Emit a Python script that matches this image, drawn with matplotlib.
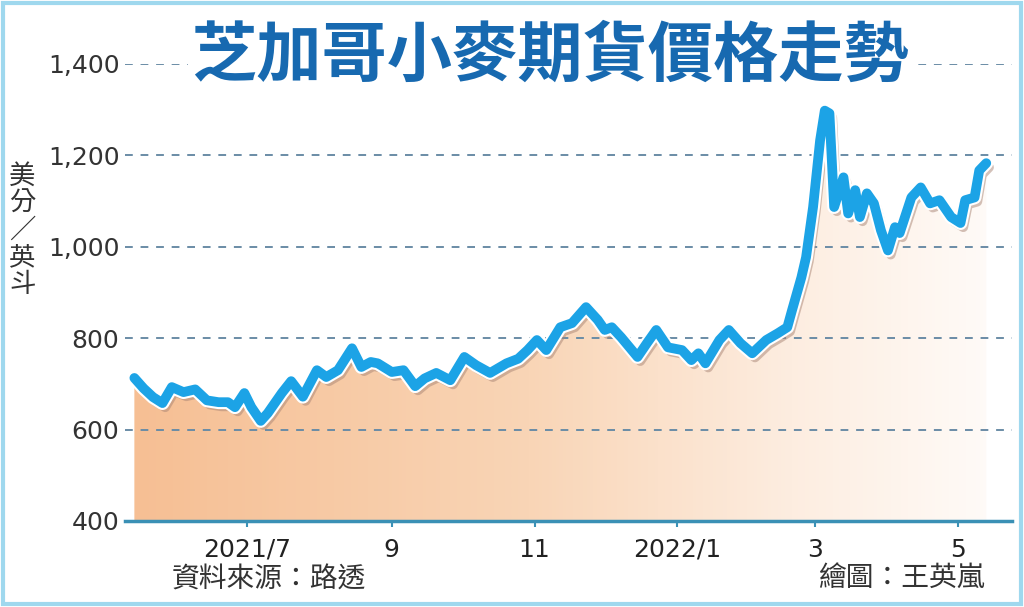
import matplotlib
matplotlib.use("Agg")
import matplotlib.pyplot as plt
import matplotlib.dates as mdates
import matplotlib.patheffects as pe
from matplotlib.colors import LinearSegmentedColormap
from matplotlib.patches import PathPatch, Rectangle
from matplotlib.path import Path
import numpy as np
import pandas as pd

plt.rcParams['font.family'] = ['Noto Sans CJK TC', 'DejaVu Sans']

# Chicago wheat futures, US cents per bushel
dates = [
    "2021-05-14", "2021-05-18", "2021-05-22", "2021-05-26", "2021-05-30", "2021-06-04",
    "2021-06-09", "2021-06-14", "2021-06-19", "2021-06-23", "2021-06-26", "2021-06-30",
    "2021-07-03", "2021-07-07", "2021-07-10", "2021-07-16", "2021-07-20", "2021-07-25",
    "2021-07-31", "2021-08-04", "2021-08-09", "2021-08-15", "2021-08-19", "2021-08-23",
    "2021-08-26", "2021-09-01", "2021-09-06", "2021-09-11", "2021-09-15", "2021-09-20",
    "2021-09-26", "2021-10-02", "2021-10-07", "2021-10-13", "2021-10-20", "2021-10-25",
    "2021-10-29", "2021-11-02", "2021-11-06", "2021-11-12", "2021-11-17", "2021-11-23",
    "2021-11-28", "2021-12-01", "2021-12-04", "2021-12-08", "2021-12-15", "2021-12-19",
    "2021-12-23", "2021-12-28", "2022-01-03", "2022-01-07", "2022-01-10", "2022-01-13",
    "2022-01-19", "2022-01-23", "2022-01-28", "2022-02-02", "2022-02-08", "2022-02-13",
    "2022-02-17", "2022-02-19", "2022-02-23", "2022-02-25", "2022-02-28", "2022-03-03",
    "2022-03-05", "2022-03-07", "2022-03-08", "2022-03-09", "2022-03-13", "2022-03-15",
    "2022-03-18", "2022-03-20", "2022-03-23", "2022-03-26", "2022-03-29", "2022-04-01",
    "2022-04-04", "2022-04-06", "2022-04-11", "2022-04-15", "2022-04-19", "2022-04-23",
    "2022-04-28", "2022-05-02", "2022-05-04", "2022-05-08", "2022-05-10", "2022-05-13",
]
prices = [
    713, 690, 671, 658, 693, 682,
    688, 664, 660, 660, 649, 680,
    649, 619, 636, 680, 706, 672,
    730, 715, 730, 778, 737, 748,
    745, 726, 730, 695, 712, 724,
    708, 759, 741, 724, 745, 755,
    774, 796, 774, 824, 833, 868,
    840, 818, 824, 802, 759, 789,
    818, 780, 774, 752, 767, 745,
    796, 818, 789, 767, 796, 811,
    824, 861, 933, 977, 1087, 1233,
    1298, 1292, 1190, 1087, 1152, 1073,
    1124, 1065, 1117, 1095, 1036, 992,
    1043, 1030, 1108, 1130, 1095, 1102,
    1065, 1052, 1102, 1108, 1167, 1183,
]

tick_dates = ["2021-07-01", "2021-09-01", "2021-11-01", "2022-01-01", "2022-03-01", "2022-05-01"]
tick_labels = ["2021/7", "9", "11", "2022/1", "3", "5"]
y_ticks = [400, 600, 800, 1000, 1200, 1400]

x = mdates.date2num(pd.to_datetime(dates))
y = np.array(prices)

fig = plt.figure(figsize=(10.24, 6.07), dpi=100)
ax = fig.add_axes([125 / 1024, 86 / 607, 887 / 1024, 457 / 607])

xmin = mdates.date2num(pd.Timestamp("2021-05-10"))
xmax = mdates.date2num(pd.Timestamp("2022-05-24"))
ax.set_xlim(xmin, xmax)
ax.set_ylim(400, 1400)

# gradient fill under the line
cmap = LinearSegmentedColormap.from_list(
    "peach", [(0, "#f6bf94"), (0.45, "#f9d5b6"), (0.75, "#fdede0"), (1, "#fffcfa")])
grad = np.linspace(0, 1, 256).reshape(1, -1)
im = ax.imshow(grad, cmap=cmap, aspect="auto", extent=[x[0], xmax, 400, 1400],
               zorder=1, interpolation="bicubic")
verts = np.vstack([np.column_stack([x, y]), [[x[-1], 400], [x[0], 400]]])
poly = PathPatch(Path(verts), facecolor="none", edgecolor="none", transform=ax.transData)
ax.add_patch(poly)
im.set_clip_path(poly)

# dashed gridlines
for v in y_ticks[1:]:
    ax.axhline(v, color="#6a8ca6", lw=1.4, ls=(0, (4, 4)), zorder=2)

# price line with white outline and soft shadow
ax.plot(x, y, color="#1ca3e6", lw=7, solid_joinstyle="round", solid_capstyle="round",
        zorder=4,
        path_effects=[pe.SimpleLineShadow(offset=(2, -3), shadow_color="#a88474", alpha=0.5),
                      pe.Stroke(linewidth=10, foreground="white"), pe.Normal()])

for s in ["top", "right", "left"]:
    ax.spines[s].set_visible(False)
ax.spines["bottom"].set_color("#3a90b5")
ax.spines["bottom"].set_linewidth(2.5)
ax.spines["bottom"].set_zorder(5)

ax.set_yticks(y_ticks)
ax.set_yticklabels([f"{v:,}" for v in y_ticks], family="DejaVu Sans", fontsize=18, color="#333333")
ax.tick_params(axis="y", length=0, pad=4)
ax.set_xticks(mdates.date2num(pd.to_datetime(tick_dates)))
ax.set_xticklabels(tick_labels, family="DejaVu Sans", fontsize=18, color="#222222")
ax.tick_params(axis="x", length=4, width=1.5, color="#3a90b5", pad=8)

# title
fig.text(0.537, 0.907, "芝加哥小麥期貨價格走勢", ha="center", va="center", fontsize=47,
         fontweight="bold", color="#1769b0",
         bbox=dict(facecolor="white", edgecolor="none", pad=2))

# unit, source, credit
fig.text(0.022, 0.62, "\n".join("美分／英斗"), ha="center", va="center", fontsize=19,
         color="#333333", linespacing=1.0)
fig.text(172 / 1024, 0.045, "資料來源：路透", ha="left", va="center", fontsize=20, color="#333333")
fig.text(985 / 1024, 0.048, "繪圖：王英嵐", ha="right", va="center", fontsize=20, color="#333333")

fig.patches.append(Rectangle((0.003, 0.005), 0.994, 0.99, transform=fig.transFigure,
                             fill=False, edgecolor="#9fd8ee", lw=3))

fig.savefig("out.png", dpi=100)
